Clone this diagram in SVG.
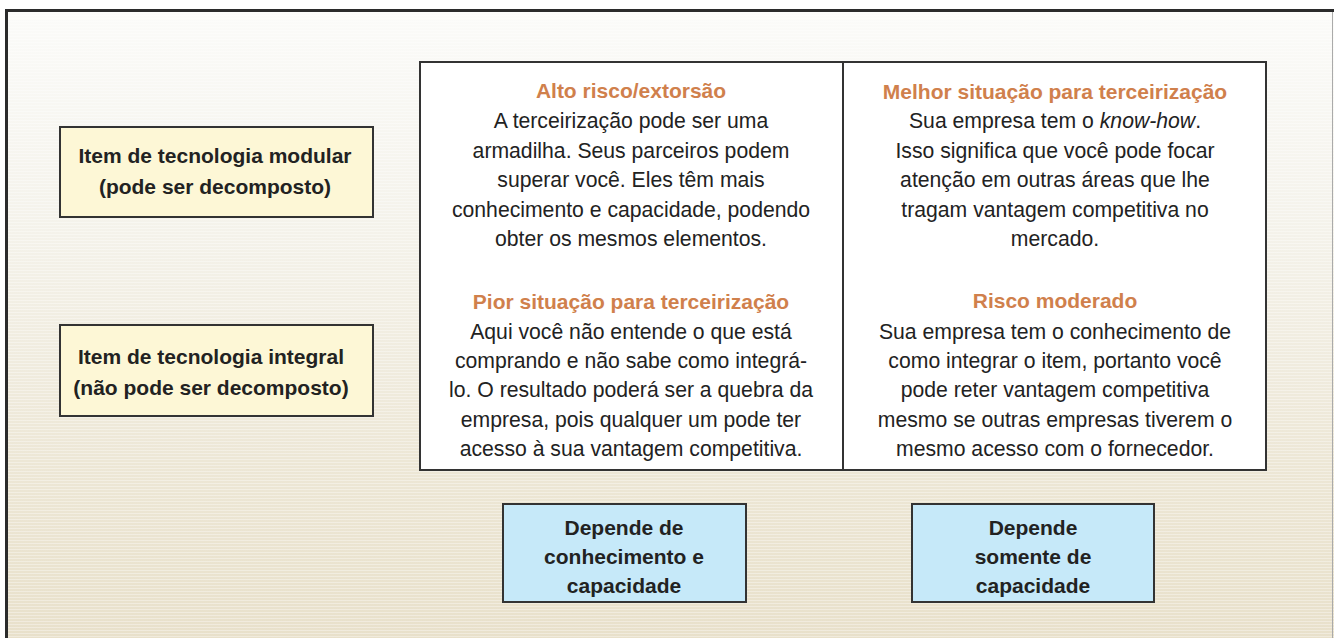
<svg xmlns="http://www.w3.org/2000/svg" width="1334" height="638" viewBox="0 0 1334 638">
<defs>
<linearGradient id="bg" x1="0" y1="0" x2="0" y2="1">
<stop offset="0" stop-color="#fbfbf9"/>
<stop offset="0.35" stop-color="#f4f2ea"/>
<stop offset="0.7" stop-color="#ede7d6"/>
<stop offset="1" stop-color="#e8e0ca"/>
</linearGradient>
<pattern id="stripes" width="8" height="3" patternUnits="userSpaceOnUse">
<rect x="0" y="0" width="8" height="1" fill="#ffffff" opacity="0.35"/>
</pattern>
<style>
.frame{fill:none;stroke:#2b2b2b;stroke-width:3}
.box{stroke:#333333;stroke-width:2}
.yel{fill:#fdf7d6}
.blu{fill:#c6e9f9}
.tbl{fill:#ffffff;stroke:#333333;stroke-width:2}
.lbl{font-family:"Liberation Sans",Arial,Helvetica,sans-serif;font-weight:bold;font-size:21px;fill:#222222;text-anchor:middle}
.hd{font-family:"Liberation Sans",Arial,Helvetica,sans-serif;font-weight:bold;font-size:21px;fill:#d0804c;text-anchor:middle}
.tx{font-family:"Liberation Sans",Arial,Helvetica,sans-serif;font-size:21.2px;fill:#222222;text-anchor:middle}
</style>
</defs>
<rect x="0" y="0" width="1334" height="638" fill="#ffffff"/>
<rect x="6.5" y="10.5" width="1340" height="640" fill="url(#bg)"/>
<rect x="6.5" y="10.5" width="1340" height="640" fill="url(#stripes)"/>
<rect class="frame" x="6.5" y="10.5" width="1340" height="640"/>
<line x1="1332.5" y1="12" x2="1332.5" y2="638" stroke="#aaaaaa" stroke-width="1"/>

<g id="modular">
<rect class="box yel" x="60" y="127" width="313" height="90"/>
<text class="lbl" x="215" y="163">Item de tecnologia modular</text>
<text class="lbl" x="215" y="194">(pode ser decomposto)</text>
</g>
<g id="integral">
<rect class="box yel" x="60" y="325" width="313" height="91"/>
<text class="lbl" x="211" y="364">Item de tecnologia integral</text>
<text class="lbl" x="211" y="395">(não pode ser decomposto)</text>
</g>

<g id="matrix">
<rect class="tbl" x="420" y="62" width="846" height="408"/>
<line x1="843" y1="62" x2="843" y2="470" stroke="#333333" stroke-width="2"/>
</g>

<g id="alto-risco">
<text class="hd" x="631" y="98">Alto risco/extorsão</text>
<text class="tx" x="631" y="128">A terceirização pode ser uma</text>
<text class="tx" x="631" y="157.5">armadilha. Seus parceiros podem</text>
<text class="tx" x="631" y="187">superar você. Eles têm mais</text>
<text class="tx" x="631" y="216.5">conhecimento e capacidade, podendo</text>
<text class="tx" x="631" y="246">obter os mesmos elementos.</text>
</g>

<g id="melhor">
<text class="hd" x="1055" y="99">Melhor situação para terceirização</text>
<text class="tx" x="1055" y="128">Sua empresa tem o <tspan font-style="italic">know-how</tspan>.</text>
<text class="tx" x="1055" y="157.5">Isso significa que você pode focar</text>
<text class="tx" x="1055" y="187">atenção em outras áreas que lhe</text>
<text class="tx" x="1055" y="216.5">tragam vantagem competitiva no</text>
<text class="tx" x="1055" y="246">mercado.</text>
</g>

<g id="pior">
<text class="hd" x="631" y="309">Pior situação para terceirização</text>
<text class="tx" x="631" y="338.5">Aqui você não entende o que está</text>
<text class="tx" x="631" y="367.5">comprando e não sabe como integrá-</text>
<text class="tx" x="631" y="397">lo. O resultado poderá ser a quebra da</text>
<text class="tx" x="631" y="426.5">empresa, pois qualquer um pode ter</text>
<text class="tx" x="631" y="455.5">acesso à sua vantagem competitiva.</text>
</g>

<g id="moderado">
<text class="hd" x="1055" y="308">Risco moderado</text>
<text class="tx" x="1055" y="338.5">Sua empresa tem o conhecimento de</text>
<text class="tx" x="1055" y="367.5">como integrar o item, portanto você</text>
<text class="tx" x="1055" y="397">pode reter vantagem competitiva</text>
<text class="tx" x="1055" y="426.5">mesmo se outras empresas tiverem o</text>
<text class="tx" x="1055" y="455.5">mesmo acesso com o fornecedor.</text>
</g>

<g id="conhecimento">
<rect class="box blu" x="503" y="504" width="243" height="98"/>
<text class="lbl" x="624" y="535">Depende de</text>
<text class="lbl" x="624" y="564">conhecimento e</text>
<text class="lbl" x="624" y="593">capacidade</text>
</g>
<g id="capacidade">
<rect class="box blu" x="912" y="504" width="242" height="98"/>
<text class="lbl" x="1033" y="535">Depende</text>
<text class="lbl" x="1033" y="564">somente de</text>
<text class="lbl" x="1033" y="593">capacidade</text>
</g>

<g id="connectors"></g>
</svg>
